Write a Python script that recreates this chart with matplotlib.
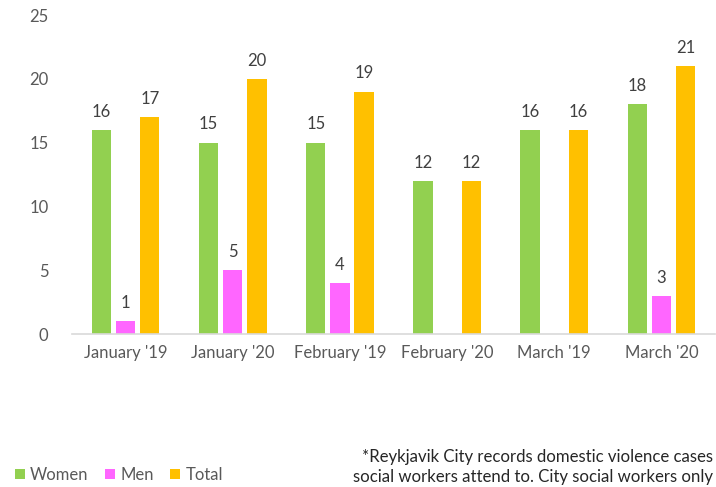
import matplotlib
matplotlib.use("Agg")
import matplotlib.pyplot as plt
import numpy as np

# données
mois = ["January '19", "January '20", "February '19", "February '20", "March '19", "March '20"]
femmes = [16, 15, 15, 12, 16, 18]
hommes = [1, 5, 4, 0, 0, 3]
total = [17, 20, 19, 12, 16, 21]

couleur_femmes = "#92D050"
couleur_hommes = "#FF66FF"
couleur_total = "#FFC000"
gris = "#595959"

plt.rcParams['font.family'] = ['Lato', 'DejaVu Sans']

fig = plt.figure(figsize=(7.16, 4.87), dpi=100)
ax = fig.add_axes([0.1006, 0.314, 0.898, 0.655])

x = np.arange(len(mois))
larg = 0.18
ecart = 0.225

series = [(femmes, couleur_femmes, "Women", -ecart),
          (hommes, couleur_hommes, "Men", 0),
          (total, couleur_total, "Total", ecart)]

for vals, coul, nom, dx in series:
    barres = ax.bar(x + dx, vals, width=larg, color=coul, label=nom)
    for b, v in zip(barres, vals):
        if v > 0:
            ax.text(b.get_x() + b.get_width() / 2, v + 0.8, str(v),
                    ha='center', va='bottom', fontsize=12, color="#404040")

ax.set_xlim(-0.5, len(mois) - 0.5)
ax.set_ylim(0, 25)
ax.set_yticks(range(0, 26, 5))
ax.set_xticks(x)
ax.set_xticklabels(mois)
ax.tick_params(axis='both', length=0, labelsize=12, labelcolor=gris)
ax.tick_params(axis='y', pad=17)
ax.tick_params(axis='x', pad=8)
for s in ['top', 'right', 'left']:
    ax.spines[s].set_visible(False)
ax.spines['bottom'].set_color("#D9D9D9")
ax.spines['bottom'].set_linewidth(1.2)

fig.legend(loc='lower left', bbox_to_anchor=(0.0, -0.022), ncol=3, frameon=False,
           fontsize=12, labelcolor=gris, handlelength=0.6, handleheight=0.6,
           handletextpad=0.3, columnspacing=1.0)

fig.text(0.996, 0.004, "*Reykjavik City records domestic violence cases\nsocial workers attend to. City social workers only",
         ha='right', va='bottom', fontsize=12.1, color="#262626", linespacing=1.3)

fig.savefig("out.png", dpi=100)
